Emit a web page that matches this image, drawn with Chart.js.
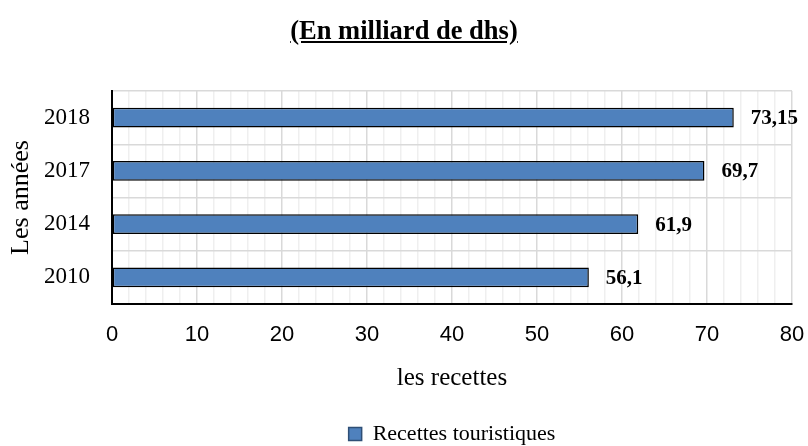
<!DOCTYPE html>
<html>
<head>
<meta charset="utf-8">
<script src="https://cdn.jsdelivr.net/npm/chart.js@4"></script>
<style>
  html, body { margin: 0; padding: 0; background: #fff; }
  #wrap { position: relative; width: 808px; height: 446px; }
  #titre {
    position: absolute; top: 15px; left: 0; width: 808px; text-align: center;
    font: bold 26.5px "Liberation Serif", "Times New Roman", serif;
    text-decoration: underline; color: #000;
  }
</style>
</head>
<body>
<div id="wrap">
  <div id="titre">(En milliard de dhs)</div>
  <canvas id="grafik" width="808" height="446"></canvas>
</div>
<script>
const annees = ["2010", "2014", "2017", "2018"];
const recettes = [56.1, 61.9, 69.7, 73.15];
const etiquettes = ["56,1", "61,9", "69,7", "73,15"];
const nomSerie = "Recettes touristiques";

const serif = "'Liberation Serif', 'Times New Roman', serif";

// etiquette de valeur au bout de chaque barre
const labelBarre = {
    id: "labelBarre",
    afterDatasetsDraw(chart) {
        const ctx = chart.ctx;
        const meta = chart.getDatasetMeta(0);
        ctx.save();
        ctx.font = "bold 21px " + serif;
        ctx.fillStyle = "#000";
        ctx.textAlign = "left";
        ctx.textBaseline = "middle";
        meta.data.forEach((bar, i) => {
            ctx.fillText(etiquettes[i], bar.x + 17, bar.y + 1);
        });
        ctx.restore();
    }
};

new Chart(document.getElementById("grafik"), {
    type: "bar",
    data: {
        labels: annees,
        datasets: [{
            label: nomSerie,
            data: recettes,
            backgroundColor: "#4f81bd",
            borderColor: "#000",
            borderWidth: 1.5,
            borderSkipped: false,
            barPercentage: 0.37,
            categoryPercentage: 1
        }]
    },
    options: {
        indexAxis: "y",
        responsive: false,
        animation: false,
        layout: { padding: { top: 91, right: 0, left: 0, bottom: -9 } },
        scales: {
            x: {
                min: 0,
                max: 80,
                afterFit(scale) {
                    scale.height = 111;
                    scale.paddingRight = 16;
                    scale.paddingLeft = 0;
                },
                ticks: {
                    stepSize: 2,
                    autoSkip: false,
                    maxRotation: 0,
                    padding: 18,
                    color: "#000",
                    font: { family: "'Liberation Sans Narrow', 'Liberation Sans', sans-serif", size: 22 },
                    callback: v => (v % 10 === 0 ? v : "")
                },
                grid: {
                    drawTicks: false,
                    color: c => (c.tick && c.tick.value % 10 === 0 ? "#d9d9d9" : "#efefef"),
                    lineWidth: 1.5
                },
                border: { color: "#000", width: 2 },
                title: {
                    display: true,
                    text: "les recettes",
                    color: "#000",
                    font: { family: serif, size: 25 },
                    padding: { top: 0, bottom: 22 }
                }
            },
            y: {
                reverse: true,
                afterFit(scale) { scale.width = 112; },
                ticks: {
                    padding: 22,
                    color: "#000",
                    font: { family: serif, size: 23 }
                },
                grid: {
                    offset: true,
                    drawTicks: false,
                    color: "#d9d9d9",
                    lineWidth: 1.5
                },
                border: { color: "#000", width: 2 },
                title: {
                    display: true,
                    text: "Les années",
                    color: "#000",
                    font: { family: serif, size: 26 },
                    padding: { top: 6, bottom: 0 }
                }
            }
        },
        plugins: {
            legend: {
                position: "bottom",
                fullSize: false,
                labels: {
                    boxWidth: 13,
                    boxHeight: 13,
                    padding: 8,
                    color: "#000",
                    font: { family: serif, size: 22 },
                    generateLabels: () => [{
                        text: nomSerie,
                        fillStyle: "#4f81bd",
                        strokeStyle: "#2f4f76",
                        lineWidth: 1.5,
                        datasetIndex: 0
                    }]
                }
            },
            tooltip: { enabled: false }
        }
    },
    plugins: [labelBarre]
});
</script>
</body>
</html>
